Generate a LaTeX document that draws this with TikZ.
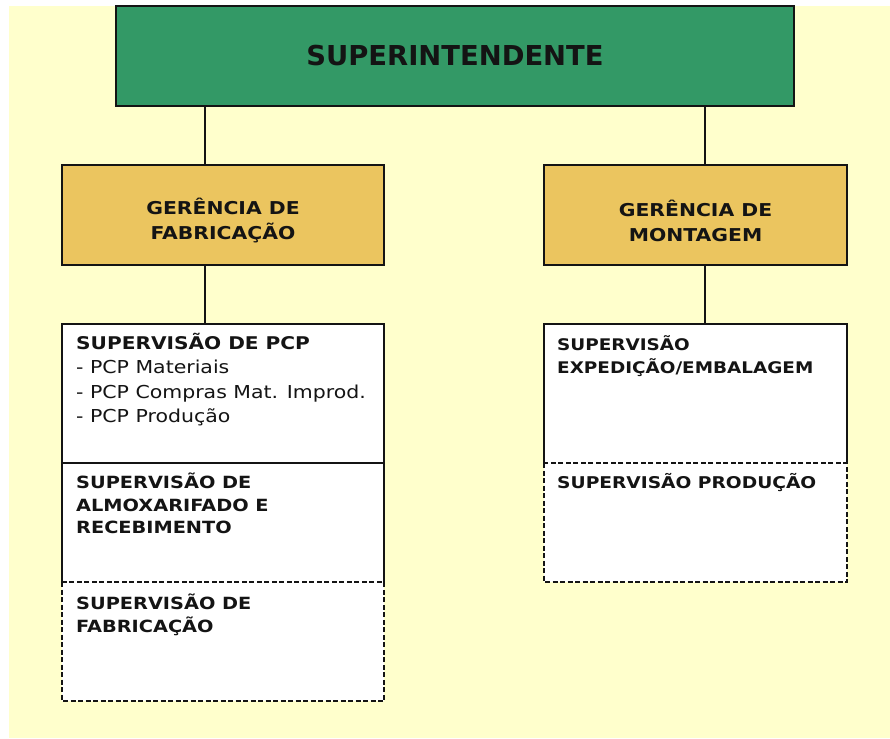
\documentclass[tikz,border=0pt]{standalone}
\usepackage{fontspec}
\setmainfont{DejaVu Sans}
\newfontfamily\widefont[FakeStretch=1.15]{DejaVu Sans}
\usetikzlibrary{calc}
\definecolor{bgyellow}{HTML}{FFFFCC}
\definecolor{supgreen}{HTML}{339966}
\definecolor{gergold}{HTML}{EBC55F}
\definecolor{ink}{HTML}{141414}
\begin{document}
\begin{tikzpicture}[x=1pt,y=-1pt,
  boxfill/.style={inner sep=0pt,outer sep=0pt,anchor=north west,fill=white},
  headbox/.style={draw=ink,line width=1.3pt,inner sep=0pt,outer sep=0pt,anchor=north west,text=ink,align=center},
  shadowed/.style={preaction={fill=black!45,transform canvas={xshift=1.2pt,yshift=-1.2pt}}},
  gertext/.style={inner sep=0pt,text=ink,align=center,font=\widefont\fontsize{17.7}{25}\selectfont\bfseries},
  solidline/.style={draw=ink,line width=1.2pt},
  dashline/.style={draw=ink,line width=1.1pt,dash pattern=on 5pt off 2.5pt},
  conn/.style={draw=ink,line width=1.2pt},
  lbl/.style={anchor=base west,inner sep=0pt,text=ink}
]
\useasboundingbox (0,0) rectangle (890,738);
\fill[bgyellow] (9,6) rectangle (890,738);

% top level
\node[headbox,shadowed,fill=supgreen,minimum width=678pt,minimum height=100pt,
      font=\fontsize{27.4}{30}\selectfont\bfseries] (sup) at (116,6) {SUPERINTENDENTE};

% managers
\node[headbox,shadowed,fill=gergold,minimum width=322pt,minimum height=100pt] (gf) at (62,165) {};
\node[headbox,shadowed,fill=gergold,minimum width=303pt,minimum height=100pt] (gm) at (544,165) {};
\node[gertext] (gft) at ($(gf.center)+(0,6)$) {GERÊNCIA DE\\FABRICAÇÃO};
\node[gertext] (gmt) at ($(gm.center)+(0,6)$) {GERÊNCIA DE\\MONTAGEM};

% supervision boxes (fills)
\node[boxfill,minimum width=322pt,minimum height=139pt] (p1) at (62,324) {};
\node[boxfill,minimum width=322pt,minimum height=119pt] (p2) at (62,463) {};
\node[boxfill,minimum width=322pt,minimum height=119pt] (p3) at (62,582) {};
\node[boxfill,minimum width=303pt,minimum height=139pt] (m1) at (544,324) {};
\node[boxfill,minimum width=303pt,minimum height=119pt] (m2) at (544,463) {};

% borders
\draw[solidline] (p1.south west) -- (p1.north west) -- (p1.north east) -- (p1.south east);
\draw[solidline] (p2.south west) -- (p2.north west) -- (p2.north east) -- (p2.south east);
\draw[dashline] (p3.north west) rectangle (p3.south east);
\draw[solidline] (m1.south west) -- (m1.north west) -- (m1.north east) -- (m1.south east);
\draw[dashline] (m2.north west) rectangle (m2.south east);

% connectors
\coordinate (xl) at (205,0);
\coordinate (xr) at (705,0);
\draw[conn] (sup.south -| xl) -- (gf.north -| xl);
\draw[conn] (sup.south -| xr) -- (gm.north -| xr);
\draw[conn] (gf.south -| xl) -- (p1.north -| xl);
\draw[conn] (gm.south -| xr) -- (m1.north -| xr);

% labels
\node[lbl] (tp1) at ($(p1.north west)+(14,25)$) {\parbox[t]{310pt}{\widefont\fontsize{17.8}{24.5}\selectfont
  {\fontsize{17.5}{24.5}\selectfont\bfseries SUPERVISÃO DE PCP}\\- PCP Materiais\\- PCP Compras Mat. Improd.\\- PCP Produção}};
\node[lbl] (tp2) at ($(p2.north west)+(14,25.5)$) {\parbox[t]{310pt}{\widefont\fontsize{16.8}{22.5}\selectfont\bfseries
  SUPERVISÃO DE\\ALMOXARIFADO E\\RECEBIMENTO}};
\node[lbl] (tp3) at ($(p3.north west)+(14,27)$) {\parbox[t]{310pt}{\widefont\fontsize{16.8}{23.5}\selectfont\bfseries
  SUPERVISÃO DE\\FABRICAÇÃO}};
\node[lbl] (tm1) at ($(m1.north west)+(13,26)$) {\parbox[t]{290pt}{\widefont\fontsize{16}{23}\selectfont\bfseries
  SUPERVISÃO\\EXPEDIÇÃO/EMBALAGEM}};
\node[lbl] (tm2) at ($(m2.north west)+(13,25)$) {\parbox[t]{290pt}{\widefont\fontsize{16.2}{23}\selectfont\bfseries
  SUPERVISÃO PRODUÇÃO}};
\end{tikzpicture}
\end{document}
